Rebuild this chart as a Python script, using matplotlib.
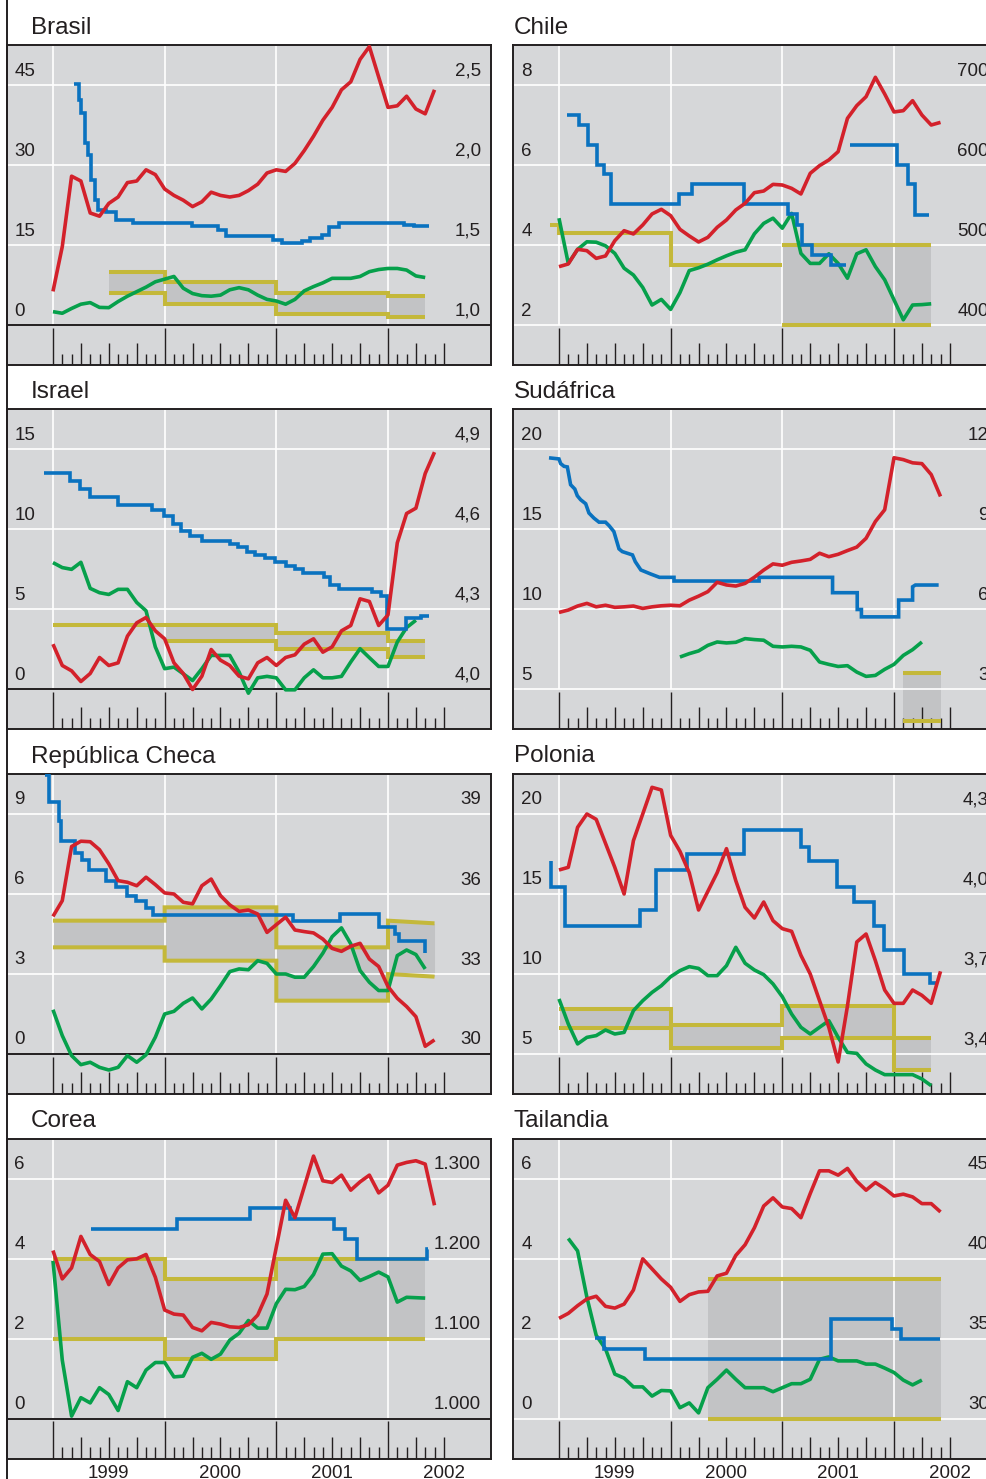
import matplotlib
matplotlib.use("Agg")
import matplotlib.pyplot as plt
from matplotlib.lines import Line2D
import numpy as np

plt.rcParams['font.family'] = ['Liberation Sans', 'DejaVu Sans']

W, H = 987, 1479
PT = 0.72  # points per pixel at dpi 100

BG = '#d6d7d9'
BAND = '#c2c3c5'
OLIVE = '#c4b83a'
RED = '#d3212b'
BLUE = '#0a72bf'
GREEN = '#06a04b'
INK = '#231f20'

# x values are months counted from January 1999 (0 = Jan 1999)
years = ['1999', '2000', '2001', '2002']

# ---- Brasil
brasil_left = [0, 15, 30, 45]
brasil_right = [1.0, 1.5, 2.0, 2.5]
brasil_right_lab = ['1,0', '1,5', '2,0', '2,5']
brasil_red = [1.21, 1.49, 1.93, 1.90, 1.70, 1.68, 1.76, 1.80, 1.89, 1.90, 1.97, 1.94, 1.85, 1.81,
              1.78, 1.74, 1.77, 1.83, 1.81, 1.80, 1.81, 1.84, 1.88, 1.95, 1.97, 1.96, 2.01, 2.09,
              2.18, 2.28, 2.36, 2.47, 2.52, 2.66, 2.74, 2.55, 2.36, 2.37, 2.43, 2.35, 2.32, 2.47]
brasil_green = [2.5, 2.2, 3.1, 3.9, 4.2, 3.3, 3.25, 4.4, 5.4, 6.25, 7.1, 8.1, 8.6, 9.1, 6.9, 5.9,
                5.5, 5.4, 5.6, 6.6, 7.0, 6.6, 5.6, 4.8, 4.5, 3.9, 4.8, 6.4, 7.2, 7.9, 8.75, 8.75,
                8.75, 9.1, 10.0, 10.4, 10.6, 10.6, 10.3, 9.2, 8.9]
brasil_blue_x = [2.23, 2.80, 3.05, 3.41, 3.77, 4.13, 4.49, 4.85, 5.74, 6.82, 8.61, 14.9, 17.77,
                 18.59, 23.69, 24.59, 26.74, 27.64, 28.89, 29.61, 30.69, 37.69, 38.76, 40.38]
brasil_blue_y = [45.2, 42.2, 39.7, 34.1, 31.9, 27.2, 23.4, 21.6, 21.1, 19.7, 19.1, 18.6, 17.8,
                 16.6, 15.9, 15.3, 15.8, 16.4, 16.9, 18.3, 19.1, 18.75, 18.6, 18.6]
brasil_band_x = [6, 12, 12, 24, 24, 36, 36, 40]
brasil_band_lo = [6, 6, 4, 4, 2, 2, 1.5, 1.5]
brasil_band_hi = [10, 10, 8, 8, 6, 6, 5.5, 5.5]

# ---- Chile
chile_left = [2, 4, 6, 8]
chile_right = [400, 500, 600, 700]
chile_right_lab = ['400', '500', '600', '700']
chile_red = [472.9, 476.3, 494.6, 492.9, 483.3, 486.3, 505.4, 517.9, 513.8, 525.0, 538.8, 544.6,
             536.7, 519.6, 511.3, 503.8, 509.6, 522.1, 531.3, 543.8, 552.1, 565.4, 567.5, 575.8,
             575.0, 570.8, 563.8, 589.6, 599.2, 606.3, 616.7, 658.3, 674.2, 685.4, 709.6, 688.8,
             666.3, 667.9, 680.4, 662.5, 650.0, 653.3]
chile_green = [4.67, 3.54, 3.89, 4.08, 4.07, 3.98, 3.79, 3.42, 3.25, 2.94, 2.50, 2.64, 2.39, 2.81,
               3.36, 3.43, 3.52, 3.63, 3.73, 3.82, 3.88, 4.28, 4.54, 4.67, 4.42, 4.79, 3.79, 3.54,
               3.54, 3.78, 3.54, 3.17, 3.78, 3.88, 3.46, 3.13, 2.63, 2.13, 2.50, 2.51, 2.53]
chile_blue_x = [0.9, 2.15, 3.1, 4.1, 4.8, 5.55, 12.9, 14.3, 19.9, 24.6, 25.6, 26.1, 27.2, 29.2, 30.8]
chile_blue_y = [7.25, 7.0, 6.5, 6.0, 5.775, 5.02, 5.275, 5.525, 5.02, 4.77, 4.5, 4.0, 3.75, 3.5, 3.5]
chile_blue2_x = [31.3, 36.35, 37.5, 38.3, 39.8]
chile_blue2_y = [6.5, 6.0, 5.525, 4.75, 4.75]
chile_target_x = [-1, 0, 0, 12, 12, 24]
chile_target_y = [4.5, 4.5, 4.3, 4.3, 3.5, 3.5]
chile_band_x = [24, 40]
chile_band_lo = [2, 2]
chile_band_hi = [4, 4]

# ---- Israel
israel_left = [0, 5, 10, 15]
israel_right = [4.0, 4.3, 4.6, 4.9]
israel_right_lab = ['4,0', '4,3', '4,6', '4,9']
israel_red = [4.17, 4.09, 4.07, 4.03, 4.06, 4.12, 4.09, 4.10, 4.20, 4.25, 4.27, 4.22, 4.19, 4.10,
              4.06, 4.00, 4.05, 4.15, 4.11, 4.09, 4.05, 4.04, 4.10, 4.12, 4.09, 4.12, 4.13, 4.17,
              4.19, 4.14, 4.16, 4.22, 4.24, 4.34, 4.33, 4.24, 4.28, 4.55, 4.66, 4.68, 4.81, 4.89]
israel_green = [7.93, 7.62, 7.51, 7.95, 6.32, 6.05, 5.94, 6.26, 6.26, 5.44, 4.92, 2.66, 1.30, 1.40,
                0.98, 0.56, 1.30, 2.13, 2.13, 2.13, 1.09, -0.23, 0.73, 0.82, 0.73, -0.02, -0.02,
                0.73, 1.23, 0.73, 0.73, 0.82, 1.72, 2.55, 1.99, 1.44, 1.44, 2.97, 3.87, 4.33]
israel_blue_x = [-0.97, 1.8, 2.9, 3.95, 7.0, 10.6, 11.9, 12.9, 13.8, 14.7, 16.0, 19.0, 19.9, 20.8,
                 21.7, 22.8, 23.9, 25.0, 26.0, 26.9, 29.1, 29.8, 30.7, 34.3, 35.2, 35.9, 37.9,
                 39.5, 40.4]
israel_blue_y = [13.54, 13.01, 12.53, 12.03, 11.55, 11.23, 10.82, 10.36, 9.92, 9.62, 9.31, 9.10,
                 8.89, 8.62, 8.41, 8.20, 7.99, 7.74, 7.51, 7.26, 7.01, 6.53, 6.28, 6.11, 5.84,
                 3.81, 4.44, 4.60, 4.60]
israel_target_x = [0, 12]
israel_target_y = [4, 4]
israel_band_x = [12, 24, 24, 36, 36, 40]
israel_band_lo = [3, 3, 2.5, 2.5, 2, 2]
israel_band_hi = [4, 4, 3.5, 3.5, 3, 3]

# ---- Sudáfrica
sa_left = [5, 10, 15, 20]
sa_right = [3, 6, 9, 12]
sa_right_lab = ['3', '6', '9', '12']
sa_red = [5.89, 5.98, 6.13, 6.23, 6.10, 6.16, 6.08, 6.10, 6.13, 6.04, 6.10, 6.14, 6.16, 6.14,
          6.35, 6.50, 6.67, 7.02, 6.92, 6.88, 6.98, 7.21, 7.48, 7.71, 7.66, 7.77, 7.82, 7.88,
          8.11, 7.98, 8.07, 8.21, 8.34, 8.67, 9.30, 9.74, 11.69, 11.62, 11.50, 11.47, 11.06, 10.24]
sa_green = [7.03, 7.24, 7.41, 7.76, 7.97, 7.91, 7.95, 8.18, 8.12, 8.08, 7.70, 7.66, 7.70, 7.66,
            7.45, 6.72, 6.57, 6.44, 6.49, 6.09, 5.82, 5.88, 6.26, 6.57, 7.13, 7.49, 7.97]
sa_blue_x = [-1.07, 0.0, 0.18, 0.54, 0.9, 1.25, 1.7, 1.97, 2.33, 2.87, 3.22, 3.76, 4.3, 5.0, 5.4,
             5.9, 6.45, 6.8, 7.9, 8.2, 8.8, 9.85, 10.8, 12.36, 12.36, 21.5, 21.5, 29.4, 29.4,
             32.05, 32.05, 32.5, 32.5, 36.5, 36.5, 38.0, 38.0, 38.3, 40.8]
sa_blue_y = [19.48, 19.41, 19.12, 18.95, 18.91, 17.80, 17.53, 17.11, 16.86, 16.61, 16.03, 15.71,
             15.46, 15.46, 15.23, 14.87, 13.79, 13.62, 13.41, 12.99, 12.47, 12.22, 12.01, 12.01,
             11.78, 11.78, 12.01, 12.01, 11.05, 11.05, 10.0, 10.0, 9.54, 9.54, 10.59, 10.59,
             11.42, 11.53, 11.53]
sa_band_x = [37, 41]
sa_band_lo = [3, 3]
sa_band_hi = [6, 6]

# ---- República Checa
cz_left = [0, 3, 6, 9]
cz_right = [30, 33, 36, 39]
cz_right_lab = ['30', '33', '36', '39']
cz_red = [35.16, 35.75, 37.78, 37.98, 37.96, 37.66, 37.13, 36.50, 36.44, 36.31, 36.63, 36.35,
          36.04, 36.00, 35.69, 35.63, 36.31, 36.56, 35.94, 35.59, 35.35, 35.40, 35.25, 34.56,
          34.85, 35.13, 34.65, 34.59, 34.54, 34.31, 33.96, 33.85, 34.04, 34.15, 33.56, 33.28,
          32.53, 32.09, 31.78, 31.40, 30.29, 30.53]
cz_green = [1.66, 0.69, -0.06, -0.40, -0.31, -0.50, -0.60, -0.50, -0.06, -0.31, -0.03, 0.63,
            1.50, 1.60, 1.90, 2.10, 1.69, 2.06, 2.56, 3.09, 3.19, 3.16, 3.50, 3.40, 3.00, 3.00,
            2.88, 2.88, 3.28, 3.78, 4.40, 4.73, 4.13, 3.13, 2.69, 2.38, 2.38, 3.69, 3.90, 3.73,
            3.19]
cz_blue_x = [-0.9, -0.43, 0.65, 0.9, 2.33, 3.16, 3.88, 5.74, 6.82, 8.0, 8.97, 9.98, 10.77, 25.84,
             30.87, 35.0, 36.8, 37.15, 40.0]
cz_blue_y = [10.45, 9.44, 8.75, 7.98, 7.53, 7.28, 6.9, 6.5, 6.28, 5.94, 5.73, 5.48, 5.23, 4.98,
             5.25, 4.78, 4.5, 4.23, 3.78]
cz_band_x = [0, 12, 12, 24, 24, 36, 36, 41]
cz_band_lo = [4, 4, 3.5, 3.5, 2, 2, 3, 2.9]
cz_band_hi = [5, 5, 5.5, 5.5, 4, 4, 5, 4.9]

# ---- Polonia
pl_left = [5, 10, 15, 20]
pl_right = [3.4, 3.7, 4.0, 4.3]
pl_right_lab = ['3,4', '3,7', '4,0', '4,3']
pl_red = [4.09, 4.10, 4.25, 4.30, 4.28, 4.19, 4.10, 4.00, 4.20, 4.30, 4.40, 4.39, 4.22, 4.16,
          4.08, 3.94, 4.01, 4.08, 4.17, 4.05, 3.95, 3.91, 3.97, 3.90, 3.87, 3.86, 3.77, 3.70,
          3.60, 3.50, 3.37, 3.58, 3.82, 3.85, 3.75, 3.64, 3.59, 3.59, 3.64, 3.62, 3.59, 3.71]
pl_green = [8.44, 6.88, 5.63, 6.04, 6.15, 6.50, 6.25, 6.35, 7.71, 8.33, 8.85, 9.27, 9.83, 10.21,
            10.46, 10.35, 9.90, 9.90, 10.52, 11.67, 10.67, 10.25, 9.96, 9.38, 8.58, 7.50, 6.67,
            6.25, 6.67, 7.08, 6.04, 5.10, 5.04, 4.38, 4.00, 3.71, 3.71, 3.71, 3.71, 3.44, 3.02]
pl_blue_x = [-0.9, -0.88, 0.64, 8.67, 10.39, 13.79, 19.88, 26.04, 26.86, 29.9, 31.7, 33.85, 34.9,
             37.07, 39.9, 40.65]
pl_blue_y = [17.08, 15.42, 13.02, 14.0, 16.5, 17.5, 19.0, 17.96, 17.04, 15.46, 14.48, 13.02,
             11.5, 10.0, 9.44, 9.44]
pl_band_x = [0, 12, 12, 24, 24, 36, 36, 40]
pl_band_lo = [6.6, 6.6, 5.4, 5.4, 6, 6, 4, 4]
pl_band_hi = [7.8, 7.8, 6.8, 6.8, 8, 8, 6, 6]

# ---- Corea
ko_left = [0, 2, 4, 6]
ko_right = [1000, 1100, 1200, 1300]
ko_right_lab = ['1.000', '1.100', '1.200', '1.300']
ko_red = [1210.0, 1174.5, 1188.3, 1227.6, 1205.0, 1196.2, 1167.4, 1188.3, 1198.3, 1199.6, 1205.0,
          1176.6, 1135.6, 1130.5, 1129.3, 1113.8, 1109.6, 1120.1, 1118.0, 1114.6, 1113.8, 1117.2,
          1129.3, 1155.6, 1214.2, 1272.8, 1251.0, 1289.5, 1328.0, 1297.1, 1295.0, 1304.2, 1285.4,
          1295.8, 1304.2, 1282.0, 1291.6, 1316.7, 1320.1, 1322.2, 1318.0, 1266.5]
ko_green = [3.94, 1.46, 0.06, 0.52, 0.39, 0.77, 0.60, 0.20, 0.92, 0.77, 1.21, 1.40, 1.40, 1.04,
            1.06, 1.53, 1.63, 1.48, 1.61, 1.96, 2.13, 2.45, 2.26, 2.26, 2.87, 3.23, 3.22, 3.30,
            3.60, 4.11, 4.12, 3.81, 3.69, 3.45, 3.55, 3.66, 3.54, 2.91, 3.03, 3.02, 3.01]
ko_blue_x = [4.13, 13.28, 21.18, 25.5, 30.15, 31.4, 32.66, 40.2, 40.3]
ko_blue_y = [4.75, 5.0, 5.26, 5.0, 4.75, 4.5, 4.0, 4.25, 4.25]
ko_band_x = [0, 12, 12, 24, 24, 40]
ko_band_lo = [2, 2, 1.5, 1.5, 2, 2]
ko_band_hi = [4, 4, 3.5, 3.5, 4, 4]

# ---- Tailandia
th_left = [0, 2, 4, 6]
th_right = [30, 35, 40, 45]
th_right_lab = ['30', '35', '40', '45']
th_red = [36.26, 36.57, 37.05, 37.47, 37.64, 37.01, 36.90, 37.15, 38.03, 39.98, 39.35, 38.72,
          38.20, 37.32, 37.74, 37.91, 37.95, 38.91, 39.08, 40.19, 40.86, 41.92, 43.28, 43.79,
          43.22, 43.12, 42.55, 44.06, 45.48, 45.48, 45.21, 45.63, 44.83, 44.27, 44.75, 44.37,
          43.91, 44.02, 43.85, 43.43, 43.43, 42.91]
th_green = [4.50, 4.19, 3.03, 2.08, 1.74, 1.11, 1.01, 0.79, 0.79, 0.56, 0.70, 0.69, 0.27, 0.39,
            0.14, 0.77, 0.98, 1.21, 0.98, 0.77, 0.77, 0.77, 0.67, 0.77, 0.87, 0.87, 0.98, 1.48,
            1.54, 1.44, 1.44, 1.44, 1.36, 1.36, 1.26, 1.15, 0.96, 0.84, 0.96]
th_blue_x = [3.87, 4.84, 9.24, 29.19, 35.82, 36.71, 40.9]
th_blue_y = [2.01, 1.735, 1.48, 2.49, 2.24, 1.99, 1.99]
th_band_x = [16, 41]
th_band_lo = [0, 0]
th_band_hi = [3.5, 3.5]

panels = [
    dict(title='Brasil', row=0, col=0, left=brasil_left, right=brasil_right, rlab=brasil_right_lab,
         red=brasil_red, green=brasil_green, g0=0,
         blue=[(brasil_blue_x, brasil_blue_y, True)],
         band=(brasil_band_x, brasil_band_lo, brasil_band_hi), target=None),
    dict(title='Chile', row=0, col=1, left=chile_left, right=chile_right, rlab=chile_right_lab,
         red=chile_red, green=chile_green, g0=0,
         blue=[(chile_blue_x, chile_blue_y, True), (chile_blue2_x, chile_blue2_y, True)],
         band=(chile_band_x, chile_band_lo, chile_band_hi), target=(chile_target_x, chile_target_y)),
    dict(title='Israel', row=1, col=0, left=israel_left, right=israel_right, rlab=israel_right_lab,
         red=israel_red, green=israel_green, g0=0,
         blue=[(israel_blue_x, israel_blue_y, True)],
         band=(israel_band_x, israel_band_lo, israel_band_hi), target=(israel_target_x, israel_target_y)),
    dict(title='Sudáfrica', row=1, col=1, left=sa_left, right=sa_right, rlab=sa_right_lab,
         red=sa_red, green=sa_green, g0=13,
         blue=[(sa_blue_x, sa_blue_y, False)],
         band=(sa_band_x, sa_band_lo, sa_band_hi), target=None),
    dict(title='República Checa', row=2, col=0, left=cz_left, right=cz_right, rlab=cz_right_lab,
         red=cz_red, green=cz_green, g0=0,
         blue=[(cz_blue_x, cz_blue_y, True)],
         band=(cz_band_x, cz_band_lo, cz_band_hi), target=None),
    dict(title='Polonia', row=2, col=1, left=pl_left, right=pl_right, rlab=pl_right_lab,
         red=pl_red, green=pl_green, g0=0,
         blue=[(pl_blue_x, pl_blue_y, True)],
         band=(pl_band_x, pl_band_lo, pl_band_hi), target=None),
    dict(title='Corea', row=3, col=0, left=ko_left, right=ko_right, rlab=ko_right_lab,
         red=ko_red, green=ko_green, g0=0,
         blue=[(ko_blue_x, ko_blue_y, True)],
         band=(ko_band_x, ko_band_lo, ko_band_hi), target=None),
    dict(title='Tailandia', row=3, col=1, left=th_left, right=th_right, rlab=th_right_lab,
         red=th_red, green=th_green, g0=1,
         blue=[(th_blue_x, th_blue_y, True)],
         band=(th_band_x, th_band_lo, th_band_hi), target=None),
]

# layout in pixels
X0, X1 = -4.94, 47.07
tops = [45, 409.5, 774, 1138.5]
box_left = [7, 513]
BOX_W, BOX_H = 484, 320
title_dx = [23.7, 1.0]
lab_dx = [7.5, 8.5]
rlab_dx = [10, 8]

LW = 2.6      # data lines
LW_T = 2.9    # target lines

months = np.arange(0, 43)
tick_frac = np.where(months % 12 == 0, 0.93, np.where(months % 3 == 0, 0.55, 0.28))

fig = plt.figure(figsize=(W / 100, H / 100), dpi=100)
fig.patch.set_facecolor('white')

for p in panels:
    c, r = p['col'], p['row']
    ax = fig.add_axes([box_left[c] / W, 1 - (tops[r] + BOX_H) / H, BOX_W / W, BOX_H / H])
    L = p['left']
    st = L[1] - L[0]
    ylo, yhi = L[0] - st / 2, L[0] + 3.5 * st
    ax.set_xlim(X0, X1)
    ax.set_ylim(ylo, yhi)
    ax.set_facecolor(BG)
    ax.set_xticks([])
    ax.set_yticks([])
    for s in ax.spines.values():
        s.set_color(INK)
        s.set_linewidth(1.4)

    # band
    bx, blo, bhi = p['band']
    ax.fill_between(bx, blo, bhi, color=BAND, lw=0, zorder=1)

    # grid
    for v in L[1:]:
        ax.axhline(v, color='white', lw=1.2, zorder=1.5)
    ax.vlines([0, 12, 24, 36], L[0], yhi, color='white', lw=1.2, zorder=1.5)
    ax.axhline(L[0], color=INK if c == 0 else 'white', lw=1.4 if c == 0 else 1.2, zorder=1.6)

    # month ticks
    ax.vlines(months, ylo, ylo + tick_frac * st / 2, color=INK, lw=1.0, zorder=1.7)

    # target lines
    ax.plot(bx, blo, color=OLIVE, lw=LW_T, solid_capstyle='butt', solid_joinstyle='miter', zorder=2)
    ax.plot(bx, bhi, color=OLIVE, lw=LW_T, solid_capstyle='butt', solid_joinstyle='miter', zorder=2)
    if p['target'] is not None:
        tx, ty = p['target']
        ax.plot(tx, ty, color=OLIVE, lw=LW_T, solid_capstyle='butt', solid_joinstyle='miter', zorder=2)

    # inflation
    g = p['green']
    ax.plot(np.arange(len(g)) + p['g0'], g, color=GREEN, lw=LW, solid_capstyle='butt', zorder=3)

    # interest rate
    for x, y, stp in p['blue']:
        ax.plot(x, y, color=BLUE, lw=LW, drawstyle='steps-post' if stp else 'default',
                solid_capstyle='butt', solid_joinstyle='miter', zorder=4)

    # left labels
    for v in L:
        ax.annotate(f'{v:g}', xy=(lab_dx[c] / BOX_W, v), xycoords=('axes fraction', 'data'),
                    xytext=(0, 9.5 * PT), textcoords='offset points', ha='left', va='baseline',
                    fontsize=13.5, color=INK, annotation_clip=False)

    # title
    ax.annotate(p['title'], xy=(title_dx[c] / BOX_W, 1), xycoords='axes fraction',
                xytext=(0, 11.5 * PT), textcoords='offset points', ha='left', va='baseline',
                fontsize=17.5, color=INK, annotation_clip=False)

    # exchange rate on right scale
    ax2 = ax.twinx()
    R = p['right']
    rst = R[1] - R[0]
    ax2.set_ylim(R[0] - rst / 2, R[0] + 3.5 * rst)
    ax2.set_xlim(X0, X1)
    ax2.axis('off')
    red = p['red']
    ax2.plot(np.arange(len(red)), red, color=RED, lw=LW, solid_capstyle='butt', zorder=5)
    for v, lab in zip(R, p['rlab']):
        ax2.annotate(lab, xy=(1 - rlab_dx[c] / BOX_W, v), xycoords=('axes fraction', 'data'),
                     xytext=(0, 9.5 * PT), textcoords='offset points', ha='right', va='baseline',
                     fontsize=13.5, color=INK, annotation_clip=False)

    if r == 3:
        for i, yl in enumerate(years):
            ax.annotate(yl, xy=(6 + 12 * i, 0), xycoords=('data', 'axes fraction'),
                        xytext=(0, -19 * PT), textcoords='offset points', ha='center',
                        va='baseline', fontsize=13.5, color=INK, annotation_clip=False)

fig.add_artist(Line2D([7 / W, 7 / W], [0, 1], color=INK, lw=1.4, transform=fig.transFigure))

fig.savefig('out.png', dpi=100)
